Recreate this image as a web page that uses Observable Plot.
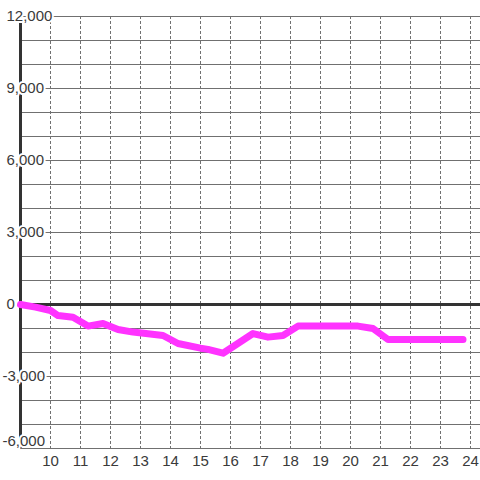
<!DOCTYPE html>
<html>
<head>
<meta charset="utf-8">
<script src="https://cdn.jsdelivr.net/npm/d3@7"></script>
<script src="https://cdn.jsdelivr.net/npm/@observablehq/plot@0.6"></script>
<style>
  html, body { margin: 0; padding: 0; background: #fff; }
</style>
</head>
<body>
<div id="chart"></div>
<script>
// Series (hour of day, value)
const hours  = [9, 9.5, 10, 10.25, 10.75, 11.25, 11.75, 12.25, 12.75, 13.75, 14.25, 15, 15.25, 15.75, 16.75, 17.25, 17.75, 18.25, 20.25, 20.75, 21.25, 23.75];
const values = [0, -110, -250, -460, -530, -900, -790, -1040, -1150, -1290, -1625, -1820, -1870, -2030, -1210, -1360, -1290, -900, -900, -1000, -1460, -1460];

// Axes / grid
const xTicks = [10, 11, 12, 13, 14, 15, 16, 17, 18, 19, 20, 21, 22, 23, 24];
const yGrid = [-6000, -5000, -4000, -3000, -2000, -1000, 0, 1000, 2000, 3000, 4000, 5000, 6000, 7000, 8000, 9000, 10000, 11000, 12000];
const yLabelsPos = [0, 3000, 6000, 9000, 12000];
const yLabelsNeg = [-3000];
const yLabelsBottom = [-6000];

const data = hours.map((h, i) => ({hour: h, value: values[i]}));
const fmt = d => d.toLocaleString("en-US");

const chart = Plot.plot({
  width: 480,
  height: 480,
  marginLeft: 20,
  marginRight: 0,
  marginTop: 16,
  marginBottom: 32,
  x: {domain: [9, 24.333], axis: null},
  y: {domain: [-6000, 12000], axis: null},
  style: {fontFamily: "'Liberation Sans', Arial, sans-serif", fontSize: "15px", background: "white", color: "#3a3a3a"},
  marks: [
    Plot.ruleY(yGrid, {stroke: "#707070", strokeWidth: 1, strokeOpacity: 1}),
    Plot.ruleX(xTicks, {stroke: "#707070", strokeWidth: 1, strokeDasharray: "3,2", strokeOpacity: 1}),
    Plot.ruleY([0], {stroke: "#333", strokeWidth: 3}),
    Plot.ruleX([9], {stroke: "#333", strokeWidth: 3}),
    Plot.line(data, {x: "hour", y: "value", stroke: "#ff33ff", strokeWidth: 7}),
    Plot.text(yLabelsPos, {x: 9, y: d => d, text: fmt, textAnchor: "start", dx: -14, fill: "#3a3a3a", stroke: "white", strokeWidth: 4}),
    Plot.text(yLabelsNeg, {x: 9, y: d => d, text: fmt, textAnchor: "start", dx: -18, fill: "#3a3a3a", stroke: "white", strokeWidth: 4}),
    Plot.text(yLabelsBottom, {x: 9, y: d => d, text: fmt, textAnchor: "start", dx: -18, dy: -7, fill: "#3a3a3a", stroke: "white", strokeWidth: 4}),
    Plot.text(xTicks, {x: d => d, frameAnchor: "bottom", lineAnchor: "top", dy: 7, text: d => String(d), fill: "#3a3a3a"})
  ]
});
document.getElementById("chart").appendChild(chart);
</script>
</body>
</html>
